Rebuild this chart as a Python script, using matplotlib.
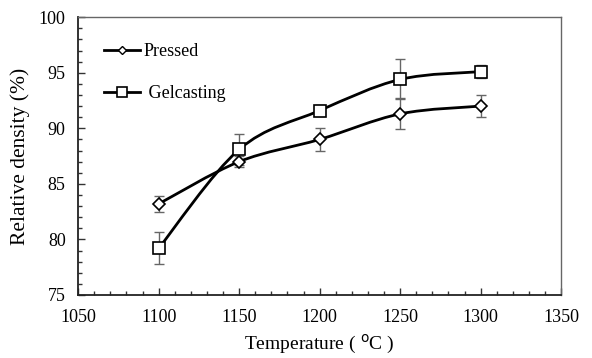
import numpy as np
import matplotlib.pyplot as plt
from matplotlib.path import Path
from matplotlib.patches import PathPatch
from matplotlib.ticker import MultipleLocator

# dati
temperatura = [1100, 1150, 1200, 1250, 1300]
pressed = [83.2, 87.0, 89.0, 91.3, 92.0]
pressed_err = [0.7, 0.5, 1.0, 1.4, 1.0]
gelcasting = [79.2, 88.1, 91.6, 94.4, 95.1]
gelcasting_err = [1.45, 1.4, 0.5, 1.8, 0.6]

plt.rcParams['font.family'] = 'Liberation Serif'


def curva_smussata(x, y):
    # curva tipo Excel (Catmull-Rom -> Bezier) passante per i punti
    x = np.asarray(x, float)
    y = np.asarray(y, float)
    verts = [(x[0], y[0])]
    codes = [Path.MOVETO]
    n = len(x)
    for i in range(n - 1):
        p0 = (x[max(i - 1, 0)], y[max(i - 1, 0)])
        p1 = (x[i], y[i])
        p2 = (x[i + 1], y[i + 1])
        p3 = (x[min(i + 2, n - 1)], y[min(i + 2, n - 1)])
        c1 = (p1[0] + (p2[0] - p0[0]) / 6, p1[1] + (p2[1] - p0[1]) / 6)
        c2 = (p2[0] - (p3[0] - p1[0]) / 6, p2[1] - (p3[1] - p1[1]) / 6)
        verts += [c1, c2, p2]
        codes += [Path.CURVE4] * 3
    return Path(verts, codes)


fig = plt.figure(figsize=(5.92, 3.58), dpi=100)
ax = fig.add_axes([0.132, 0.176, 0.816, 0.776])

for y, e, m, ms in [(pressed, pressed_err, 'D', 6.5), (gelcasting, gelcasting_err, 's', 8)]:
    ax.add_patch(PathPatch(curva_smussata(temperatura, y), facecolor='none',
                           edgecolor='black', lw=2, zorder=2))
    ax.errorbar(temperatura, y, yerr=e, fmt='none', ecolor='#666666',
                elinewidth=1, capsize=3.5, capthick=1, zorder=3)
    ax.plot(temperatura, y, linestyle='none', marker=m, markersize=ms,
            markerfacecolor='white', markeredgecolor='black',
            markeredgewidth=1.2, zorder=4)

# legenda manuale
h1, = ax.plot([], [], color='black', lw=2, marker='D', markersize=4.5,
              markerfacecolor='white', markeredgecolor='black', markeredgewidth=1)
h2, = ax.plot([], [], color='black', lw=2, marker='s', markersize=7,
              markerfacecolor='white', markeredgecolor='black', markeredgewidth=1.2)
ax.legend([h1, h2], ['Pressed', ' Gelcasting'], loc='upper left',
          bbox_to_anchor=(0.02, 0.965), frameon=False, fontsize=13,
          handlelength=2.0, handletextpad=0.2, labelspacing=1.4)

ax.set_xlim(1050, 1350)
ax.set_ylim(75, 100)
ax.xaxis.set_major_locator(MultipleLocator(50))
ax.xaxis.set_minor_locator(MultipleLocator(10))
ax.yaxis.set_major_locator(MultipleLocator(5))
ax.yaxis.set_minor_locator(MultipleLocator(1))
ax.tick_params(which='both', direction='in', top=False, right=False,
               labelsize=13, color='#333333')
ax.tick_params(axis='x', which='major', pad=10)
ax.tick_params(axis='y', which='major', pad=9)
ax.tick_params(which='major', length=5, width=1)
ax.tick_params(which='minor', length=3, width=1)

for s in ['left', 'bottom']:
    ax.spines[s].set_color('#222222')
    ax.spines[s].set_linewidth(1.3)
for s in ['top', 'right']:
    ax.spines[s].set_color('#666666')
    ax.spines[s].set_linewidth(1)

ax.set_xlabel('Temperature ( $^{\\rm o}$C )', fontsize=14, labelpad=5)
ax.set_ylabel('Relative density (%)', fontsize=15.5, labelpad=6)

fig.savefig('out.png', dpi=100)
